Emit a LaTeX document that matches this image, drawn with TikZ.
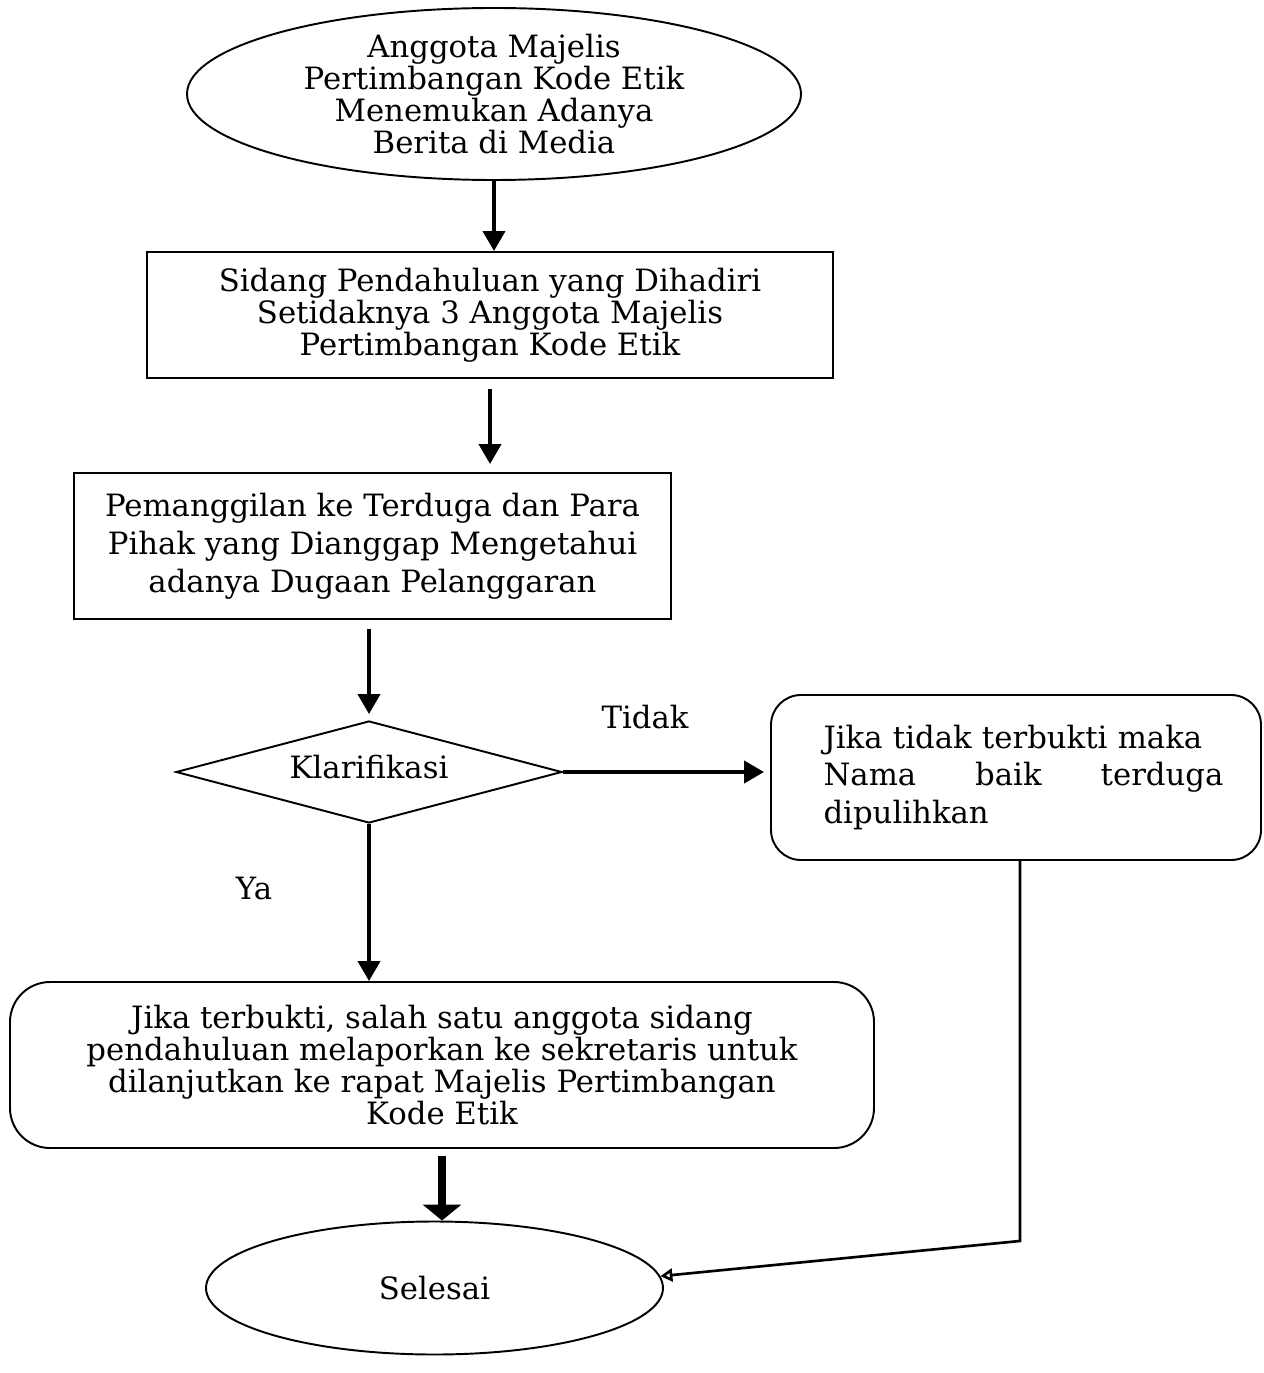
\documentclass[tikz,border=0pt]{standalone}
\usepackage{fontspec}
\setmainfont{DejaVu Serif}
\usetikzlibrary{arrows.meta,shapes.geometric}

\begin{document}
\begin{tikzpicture}[line width=1.1pt,>={Triangle[length=4mm,width=4.4mm]},
  txt/.style={font=\fontsize{17.5}{15}\selectfont,align=center},
  oval/.style={draw,ellipse,inner sep=0pt,txt},
  kotak/.style={draw,rectangle,inner sep=0pt,txt},
  bulat/.style={draw,rectangle,rounded corners=0.8cm,inner sep=0pt,txt},
  alur/.style={->,line width=2.3pt}]
  \useasboundingbox (0,0) rectangle (25.26,-27.46);
  % bagan alur
  \node[oval,minimum width=12.28cm,minimum height=3.44cm] (mulai) at (9.88,-1.88)
    {Anggota Majelis\\Pertimbangan Kode Etik\\Menemukan Adanya\\Berita di Media};
  \node[kotak,minimum width=13.72cm,minimum height=2.52cm] (sidang) at (9.80,-6.30)
    {Sidang Pendahuluan yang Dihadiri\\Setidaknya 3 Anggota Majelis\\Pertimbangan Kode Etik};
  \node[kotak,minimum width=11.94cm,minimum height=2.92cm,
    font=\fontsize{17.5}{21.6}\selectfont] (panggil) at (7.45,-10.92)
    {Pemanggilan ke Terduga dan Para\\Pihak yang Dianggap Mengetahui\\adanya Dugaan Pelanggaran};
  \node[draw,diamond,aspect=3.8,inner sep=0pt,minimum width=7.72cm,minimum height=2.04cm,
    txt] (klar) at (7.38,-15.44) {\raisebox{0.2cm}{Klarifikasi}};
  \node[bulat,rounded corners=0.6cm,minimum width=9.80cm,minimum height=3.30cm,
    font=\fontsize{17.5}{21.6}\selectfont,text width=8.3cm,align=left] (tidak) at (20.32,-15.55)
    {\hspace*{0.3cm}Jika tidak terbukti maka\\\hspace*{0.3cm}Nama\hfill baik\hfill terduga\\\hspace*{0.3cm}dipulihkan};
  \node[bulat,minimum width=17.28cm,minimum height=3.32cm] (ya) at (8.84,-21.30)
    {Jika terbukti, salah satu anggota sidang\\pendahuluan melaporkan ke sekretaris untuk\\dilanjutkan ke rapat Majelis Pertimbangan\\Kode Etik};
  \node[oval,minimum width=9.14cm,minimum height=2.66cm] (selesai) at (8.69,-25.76) {Selesai};
  % panah
  \draw[alur] (mulai.south) -- (mulai.south |- sidang.north);
  \draw[alur,shorten <=0.2cm,shorten >=0.16cm] (sidang.south) -- (sidang.south |- panggil.north);
  \draw[alur,shorten <=0.18cm,shorten >=0.12cm] (panggil.south -| klar.north) -- (klar.north);
  \draw[alur,shorten >=0.12cm] (klar.east) -- (klar.east -| tidak.west);
  \draw[alur] (klar.south) -- (klar.south |- ya.north);
  \draw[->,line width=4pt,>={Triangle[length=3.2mm,width=7.6mm]},shorten <=0.14cm]
    (ya.south) -- (ya.south |- selesai.north);
  \path (tidak.south) ++(0.08,-7.6) coordinate (belok);
  \draw[line width=1.5pt,->,>={Triangle[open,length=2.4mm,width=2.6mm]}]
    (tidak.south -| belok) -- (belok) -- (selesai.3);
  % label
  \node[txt] (lbltidak) at (12.9,-14.34) {Tidak};
  \node[txt] (lblya) at (5.08,-17.76) {Ya};
\end{tikzpicture}
\end{document}
